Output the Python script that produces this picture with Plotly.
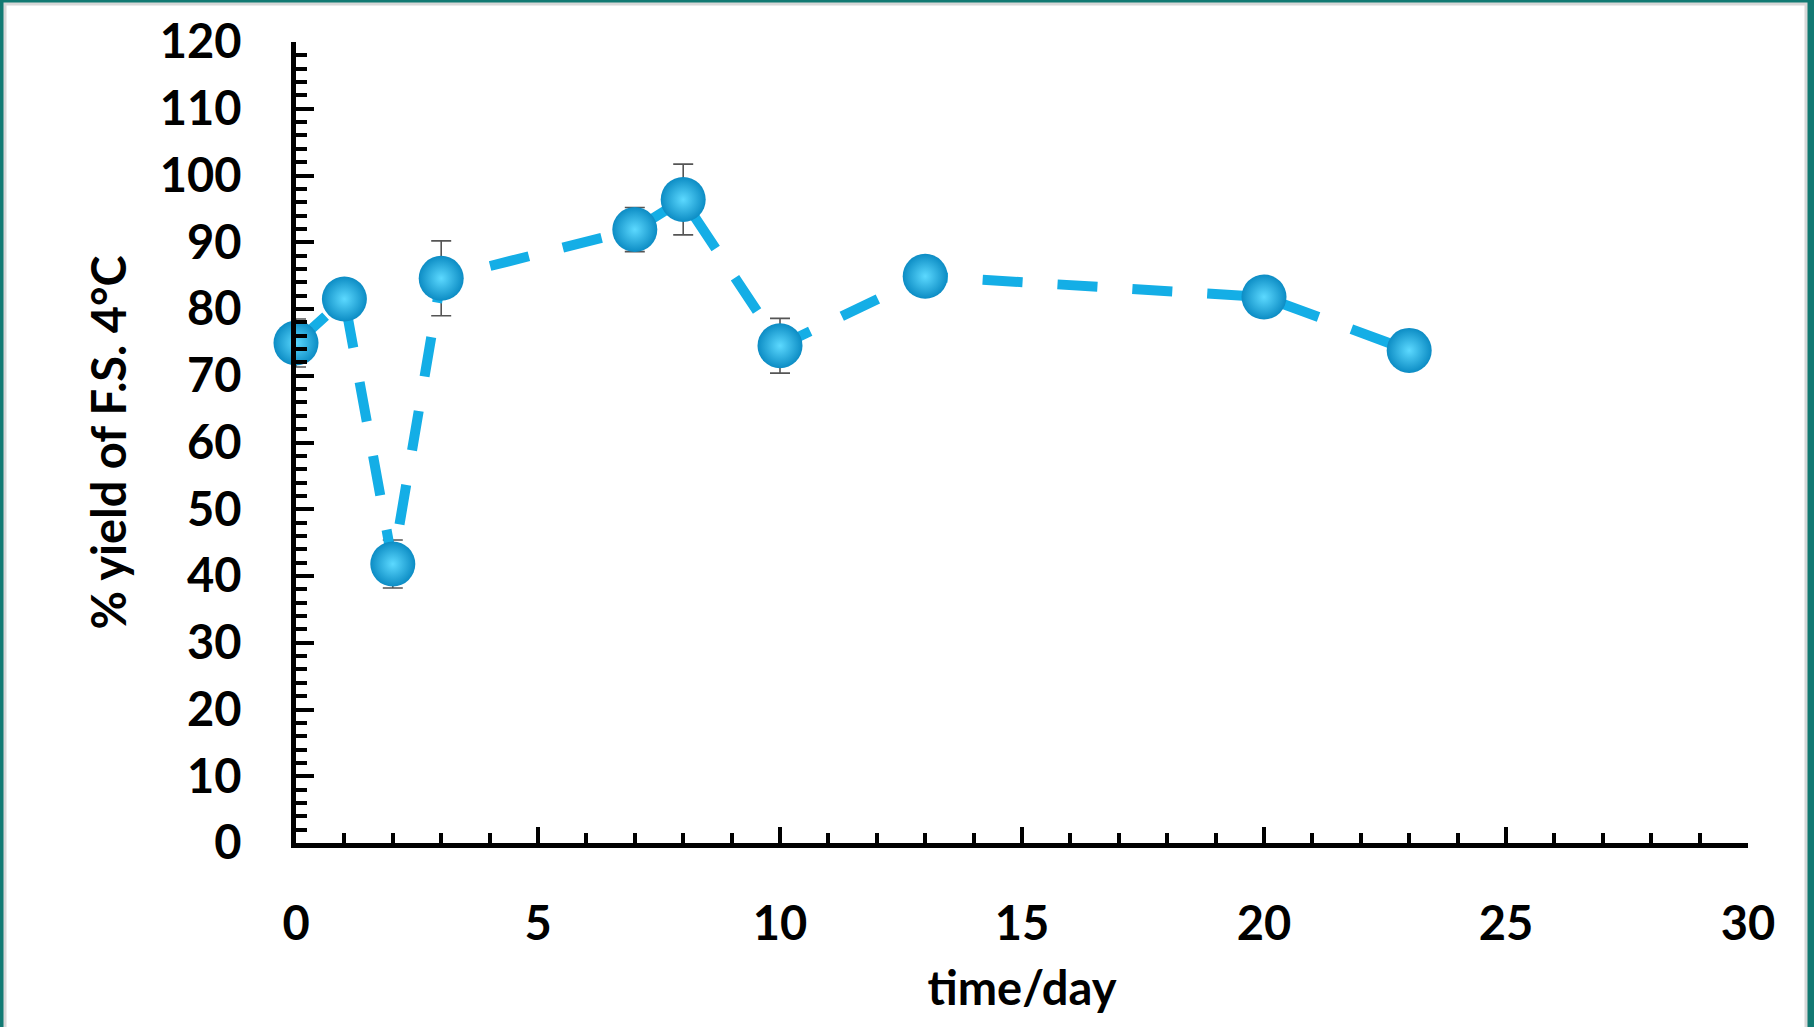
import plotly.graph_objects as go

days = [0, 1, 2, 3, 7, 8, 10, 13, 20, 23]
yield_pct = [74.9, 81.5, 41.8, 84.6, 91.9, 96.4, 74.5, 84.9, 81.8, 73.8]
err = [3.6, 1.0, 3.6, 5.6, 3.3, 5.3, 4.1, 1.0, 1.0, 1.0]

x_title = "time/day"
y_title = "% yield of F.S. 4°C"

W, H = 1814, 1027
L, R, T, B = 296, 66, 42, 184
pw, ph = W - L - R, H - T - B

def px_x(p):
    return (p - L) / pw

def px_y(p):
    return (H - B - p) / ph

FONT = "Lato"
FS = 47

fig = go.Figure()
fig.add_trace(go.Scatter(
    x=days, y=yield_pct,
    mode="lines+markers",
    cliponaxis=False,
    line=dict(color="#14aee6", width=10, dash="40px,35px"),
    marker=dict(size=45, color="#0c8cc4",
                gradient=dict(type="radial", color="#5cd9ff"),
                line=dict(width=0)),
    error_y=dict(type="data", array=err, color="#555555", thickness=1.6, width=10),
    showlegend=False,
))

shapes = [
    dict(type="rect", xref="paper", yref="paper",
         x0=px_x(5), x1=px_x(1806), y0=px_y(1030), y1=px_y(4),
         fillcolor="white", line=dict(color="#d8d8d8", width=3), layer="below"),
]

fig.update_layout(
    width=W, height=H,
    margin=dict(l=L, r=R, t=T, b=B, pad=0),
    paper_bgcolor="#127a73",
    plot_bgcolor="rgba(0,0,0,0)",
    shapes=shapes,
    font=dict(family=FONT, color="black", size=FS),
    xaxis=dict(
        range=[0, 30], tick0=0, dtick=5, showgrid=False, zeroline=False,
        showline=True, linecolor="black", linewidth=5,
        ticks="inside", ticklen=16, tickwidth=4, tickcolor="black",
        minor=dict(dtick=1, ticks="inside", ticklen=10, tickwidth=4, tickcolor="black", showgrid=False),
        tickfont=dict(family=FONT, size=FS, color="black", weight="bold"),
        ticklabelstandoff=36,
        title=dict(text=x_title, font=dict(family=FONT, size=FS, color="black", weight="bold"), standoff=24),
    ),
    yaxis=dict(
        range=[0, 120], tick0=0, dtick=10, showgrid=False, zeroline=False,
        showline=True, linecolor="black", linewidth=5,
        ticks="inside", ticklen=18, tickwidth=4, tickcolor="black",
        minor=dict(dtick=2, ticks="inside", ticklen=11, tickwidth=4, tickcolor="black", showgrid=False),
        tickfont=dict(family=FONT, size=FS, color="black", weight="bold"),
        ticklabelstandoff=40,
        title=dict(text=y_title, font=dict(family=FONT, size=FS, color="black", weight="bold"), standoff=20),
    ),
)

fig.write_html("out.html")
